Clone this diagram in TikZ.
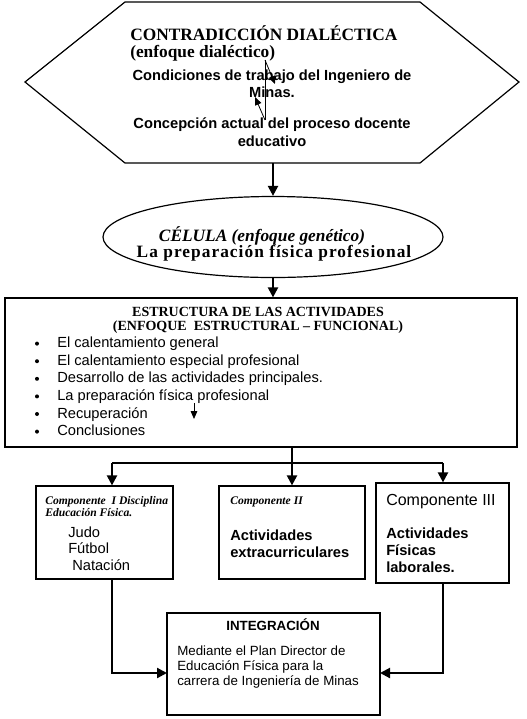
\documentclass[tikz,border=0pt]{standalone}
\usepackage{fontspec}
\setmainfont{Liberation Serif}
\setsansfont{Liberation Sans}
\usetikzlibrary{arrows.meta,shapes.geometric,fit}

\begin{document}
\begin{tikzpicture}[
  x=0.75pt, y=-0.75pt,
  font=\sffamily\fontsize{11}{13}\selectfont,
  box/.style={draw, line width=0.9pt, inner sep=0pt, fit={#1}},
  arrow/.style={-{Triangle[length=7.5pt,width=7.5pt]}, line width=1.6pt},
  linea/.style={line width=1.6pt},
  flechita/.style={-{Triangle[length=6pt,width=5pt]}, line width=0.6pt},
  txt/.style={inner sep=0pt, anchor=base west},
  ctxt/.style={inner sep=0pt, anchor=base},
  tituloserif/.style={font=\rmfamily\bfseries\fontsize{13}{15}\selectfont},
  serifb/.style={font=\rmfamily\bfseries\fontsize{10.5}{12}\selectfont},
  serifbi/.style={font=\rmfamily\bfseries\itshape\fontsize{8.7}{11}\selectfont},
  sansb/.style={font=\sffamily\bfseries\fontsize{11}{13}\selectfont},
  sansp/.style={font=\sffamily\fontsize{10}{12}\selectfont}
]
  \useasboundingbox (0,0) rectangle (526,719);

  % contradiccion
  \draw[line width=0.9pt] (125,2) -- (420,2) -- (519,82) -- (420,163) -- (125,163) -- (25,82) -- cycle;
  \coordinate (contra) at (273,163);
  \node[txt, tituloserif] (contra-t1) at (130,40) {CONTRADICCIÓN DIALÉCTICA};
  \node[txt, tituloserif] (contra-t2) at (130,57) {(enfoque dialéctico)};
  \node[ctxt, sansb] (contra-t3) at (272,80) {Condiciones de trabajo del Ingeniero de};
  \node[ctxt, sansb] (contra-t4) at (272,97) {Minas.};
  \node[ctxt, sansb] (contra-t5) at (272,128) {Concepción actual del proceso docente};
  \node[ctxt, sansb] (contra-t6) at (272,146) {educativo};
  \coordinate (a0) at (265,60);
  \coordinate (a1) at (265,120);
  \coordinate (a2) at (275,84);
  \coordinate (a3) at (255,97);
  \draw[line width=0.6pt] (a0) -- (a1);
  \draw[flechita] (a0) -- (a2);
  \draw[flechita] (a1) -- (a3);

  % celula
  \node[draw, ellipse, line width=0.9pt, minimum width=255pt, minimum height=60.75pt] (celula) at (273,237) {};
  \node[ctxt, font=\rmfamily\bfseries\itshape\fontsize{13}{15}\selectfont] (celula-t1) at (262,241) {CÉLULA (enfoque genético)};
  \node[ctxt, font=\rmfamily\bfseries\fontsize{13}{15}\selectfont\addfontfeatures{LetterSpace=6}] (celula-t2) at (274,257) {La preparación física profesional};

  % estructura
  \node[box={(5,298) (517,447)}] (estructura) {};
  \node[ctxt, serifb] (estr-t1) at (258,316) {ESTRUCTURA DE LAS ACTIVIDADES};
  \node[ctxt, serifb] (estr-t2) at (258,330) {(ENFOQUE\ \ ESTRUCTURAL – FUNCIONAL)};
  \foreach \t [count=\i] in {El calentamiento general, El calentamiento especial profesional, Desarrollo de las actividades principales., La preparación física profesional, Recuperación, Conclusiones}{
    \node[txt] (item\i) at (57,330+17.6*\i) {\t};
    \fill (37,326+17.6*\i) circle (1.5pt);
  }
  \coordinate (p0) at (194,403);
  \coordinate (p1) at (194,419);
  \draw[flechita] (p0) -- (p1);

  % componentes
  \node[box={(36,486) (173,579)}] (comp1) {};
  \node[box={(219,486) (365,579)}] (comp2) {};
  \node[box={(376,483) (509,583)}] (comp3) {};

  \node[txt, serifbi] (comp1-t1) at (45,504) {Componente\ \ I Disciplina};
  \node[txt, serifbi] (comp1-t2) at (45,516) {Educación Física.};
  \node[txt] (comp1-t3) at (68,537) {Judo};
  \node[txt] (comp1-t4) at (68,553) {Fútbol};
  \node[txt] (comp1-t5) at (72,570) {Natación};

  \node[txt, serifbi] (comp2-t1) at (230,504) {Componente II};
  \node[txt, sansb] (comp2-t2) at (230,540) {Actividades};
  \node[txt, sansb] (comp2-t3) at (230,557) {extracurriculares};

  \node[txt, font=\sffamily\fontsize{12}{14}\selectfont] (comp3-t1) at (386,505) {Componente III};
  \node[txt, sansb] (comp3-t2) at (386,538) {Actividades};
  \node[txt, sansb] (comp3-t3) at (386,555) {Físicas};
  \node[txt, sansb] (comp3-t4) at (386,572) {laborales.};

  % integracion
  \node[box={(167,613) (380,715)}] (integ) {};
  \node[ctxt, font=\sffamily\bfseries\fontsize{10}{12}\selectfont] (integ-t1) at (273,630) {INTEGRACIÓN};
  \node[txt, sansp] (integ-t2) at (177,655) {Mediante el Plan Director de};
  \node[txt, sansp] (integ-t3) at (177,670) {Educación Física para la};
  \node[txt, sansp] (integ-t4) at (177,685) {carrera de Ingeniería de Minas};

  \coordinate (r1) at (112,463);
  \coordinate (r3) at (443,463);
  \coordinate (in1) at (167,673);
  \coordinate (in3) at (380,673);

  \draw[arrow] (contra) -- (celula);
  \draw[arrow] (celula.south) -- (celula.south |- estructura.north);
  \draw[arrow] (estructura.south -| comp2.north) -- (comp2.north);
  \draw[linea] (r1) -- (r3);
  \draw[arrow] (r1) -- (r1 |- comp1.north);
  \draw[arrow] (r3) -- (r3 |- comp3.north);
  \draw[arrow] (r1 |- comp1.south) |- (in1);
  \draw[arrow] (r3 |- comp3.south) |- (in3);
\end{tikzpicture}
\end{document}
